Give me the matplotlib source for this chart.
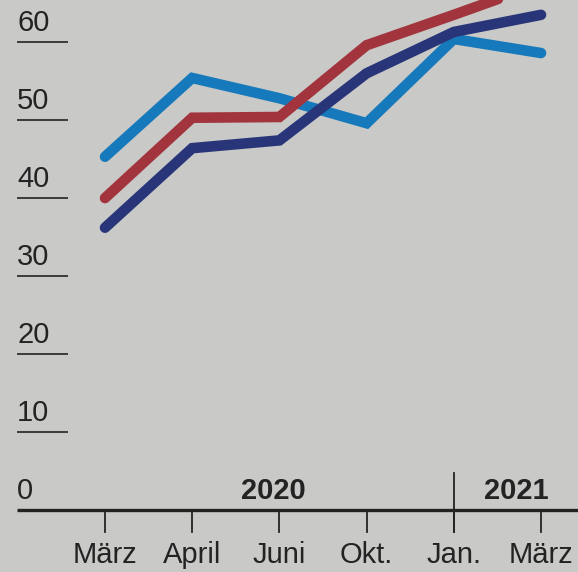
import matplotlib
matplotlib.use("Agg")
import matplotlib.pyplot as plt

# Survey shares in percent, March 2020 to March 2021
months = ["März", "April", "Juni", "Okt.", "Jan.", "März"]
series_light_blue = [45.3, 55.4, 52.8, 49.6, 60.4, 58.6]
series_red = [40.0, 50.3, 50.4, 59.6, 63.5, 67.5]
series_navy = [36.2, 46.4, 47.4, 56.0, 61.3, 63.5]
y_ticks = [0, 10, 20, 30, 40, 50, 60]
years = ["2020", "2021"]

plt.rcParams["font.family"] = ["Liberation Sans", "DejaVu Sans"]

paper = "#c9c9c7"
ink = "#232323"

fig = plt.figure(figsize=(5.78, 5.72), dpi=100, facecolor=paper)
ax = fig.add_axes([0, 0, 1, 1])
ax.set_facecolor(paper)
ax.set_xlim(-1.204, 5.424)
ax.set_ylim(-7.95, 65.4)
ax.axis("off")

x = list(range(len(months)))

line_kw = dict(lw=7.6, solid_capstyle="round", solid_joinstyle="miter")
ax.plot(x, series_light_blue, color="#1679bb", zorder=3, **line_kw)
ax.plot(x, series_navy, color="#283679", zorder=4, **line_kw)
ax.plot(x, series_red, color="#a2343e", zorder=5, **line_kw)

# y-axis: value labels sitting on short rules
for v in y_ticks:
    ax.text(-1.009, v + 1.4, str(v), fontsize=21, color=ink,
            ha="left", va="baseline")
    if v > 0:
        ax.plot([-1.009, -0.424], [v, v], color=ink, lw=1.2,
                solid_capstyle="butt")

# baseline
ax.plot([-1.009, 5.424], [0, 0], color=ink, lw=2.4, solid_capstyle="butt",
        zorder=6)

# month ticks and labels
for xi, m in zip(x, months):
    ax.plot([xi, xi], [0, -2.8], color=ink, lw=1.3)
    ax.text(xi, -6.8, m, fontsize=21, color=ink, ha="center", va="baseline")

# year divider at January
ax.plot([4, 4], [4.7, -2.8], color=ink, lw=1.3)

# year labels
ax.text(1.93, 1.4, years[0], fontsize=21, fontweight="bold", color=ink,
        ha="center", va="baseline")
ax.text(4.72, 1.4, years[1], fontsize=21, fontweight="bold", color=ink,
        ha="center", va="baseline")

fig.savefig("out.png", dpi=100, facecolor=paper)
